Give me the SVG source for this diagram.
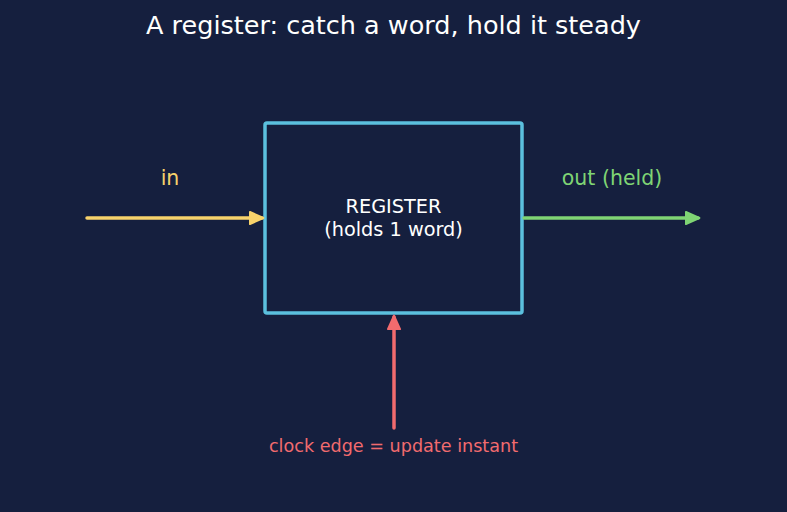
<svg xmlns="http://www.w3.org/2000/svg" width="787" height="512" viewBox="0 0 787 512">
<defs>
<style>
text{font-family:"DejaVu Sans","Liberation Sans",sans-serif;text-anchor:middle}
.conn{fill:none;stroke-width:3.5;stroke-linecap:round}
.head{stroke-width:1.5;stroke-linejoin:round}
</style>
<marker id="ay" viewBox="-1 -1 12 12" refX="9" refY="5" markerWidth="4.6" markerHeight="4.6" orient="auto" markerUnits="strokeWidth"><path class="head" d="M0,0.5 L10,5 L0,9.5 z" fill="#f7d26b" stroke="#f7d26b"/></marker>
<marker id="ag" viewBox="-1 -1 12 12" refX="9" refY="5" markerWidth="4.6" markerHeight="4.6" orient="auto" markerUnits="strokeWidth"><path class="head" d="M0,0.5 L10,5 L0,9.5 z" fill="#7fd474" stroke="#7fd474"/></marker>
<marker id="ar" viewBox="-1 -1 12 12" refX="9" refY="5" markerWidth="4.6" markerHeight="4.6" orient="auto" markerUnits="strokeWidth"><path class="head" d="M0,0.5 L10,5 L0,9.5 z" fill="#f26b6e" stroke="#f26b6e"/></marker>
</defs>
<rect width="787" height="512" fill="#151f3e"/>
<text x="393.5" y="34" font-size="25.5" fill="#ffffff">A register: catch a word, hold it steady</text>
<g id="register">
<rect x="265" y="123" width="257" height="190" rx="2" fill="#151f3e" stroke="#5bc0de" stroke-width="3.5"/>
<text x="393.5" y="213" font-size="19.3" fill="#ffffff">REGISTER</text>
<text x="393.5" y="236" font-size="19.3" fill="#ffffff">(holds 1 word)</text>
</g>
<g id="connectors">
<line class="conn" x1="87" y1="218" x2="262" y2="218" stroke="#f7d26b" marker-end="url(#ay)"/>
<line class="conn" x1="524" y1="218" x2="698" y2="218" stroke="#7fd474" marker-end="url(#ag)"/>
<line class="conn" x1="394" y1="428" x2="394" y2="317" stroke="#f26b6e" marker-end="url(#ar)"/>
</g>
<g id="labels">
<text x="170" y="185" font-size="20.5" fill="#f7d26b">in</text>
<text x="612" y="185" font-size="20.5" fill="#7fd474">out (held)</text>
<text x="393.5" y="452" font-size="17.6" fill="#f26b6e">clock edge = update instant</text>
</g>
</svg>
